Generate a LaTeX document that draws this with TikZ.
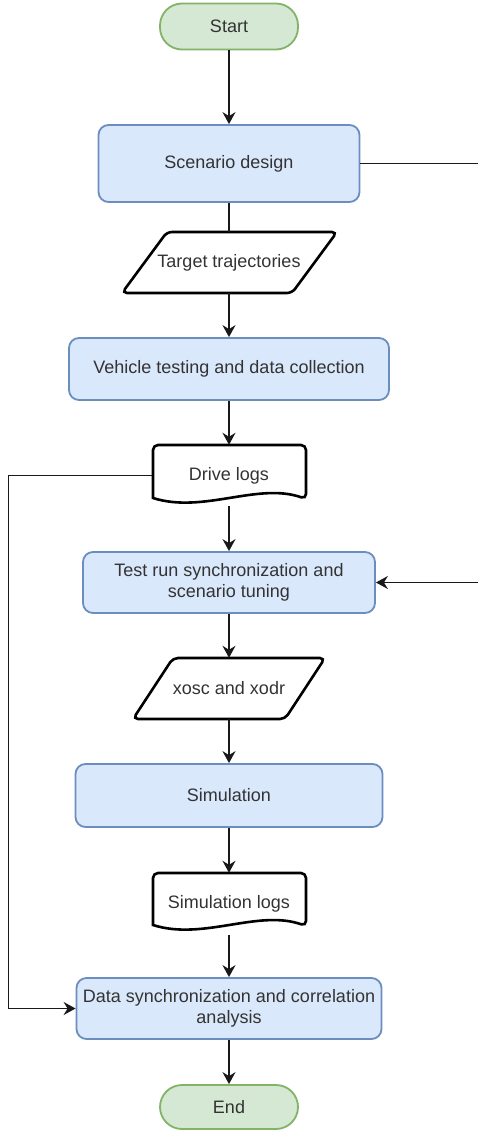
\documentclass[tikz,border=0pt]{standalone}
\usepackage{fontspec}
\setmainfont{Liberation Sans}
\usetikzlibrary{arrows.meta}
\definecolor{bluefill}{HTML}{DAE8FC}
\definecolor{bluedraw}{HTML}{6C8EBF}
\definecolor{greenfill}{HTML}{D5E8D4}
\definecolor{greendraw}{HTML}{82B366}
\definecolor{txt}{HTML}{333333}
\tikzset{
  lbl/.style={inner sep=0pt, text=txt, align=center,
    font=\fontsize{18}{21.5}\selectfont},
  procbox/.style={lbl, draw=bluedraw, fill=bluefill, line width=1.8pt, rounded corners=10pt},
  termbox/.style={lbl, draw=greendraw, fill=greenfill, line width=1.8pt},
  ghost/.style={lbl},
  outline/.style={draw=black, line width=2.6pt, rounded corners=5pt, fill=white},
  conn/.style={draw=black!90, line width=1.7pt},
  arr/.style={conn, -{Stealth[length=12pt,width=13pt,inset=4pt]}}
}
\begin{document}
\begin{tikzpicture}[x=1pt,y=-1pt]
\useasboundingbox (0,0) rectangle (477,1132);
\fill[white] (0,0) rectangle (477,1132);

% shapes drawn directly (parallelograms and documents)
\draw[outline] (167,232) -- (337,232) -- (292,293) -- (122,293) -- cycle;
\draw[outline] (173,658) -- (325,658) -- (285,719) -- (133,719) -- cycle;
\draw[outline] (153,498) -- (153,445) -- (306,445) -- (306,499)
  [sharp corners] .. controls (258,482) and (203,514) .. (153,498) -- cycle;
\draw[outline] (153,925) -- (153,873) -- (306,873) -- (306,926)
  [sharp corners] .. controls (258,909) and (203,941) .. (153,925) -- cycle;

% nodes
\node[termbox, rounded corners=22pt, minimum width=138pt, minimum height=46pt] (start) at (229,26.5) {\raisebox{-1pt}{Start}};
\node[procbox, minimum width=261pt, minimum height=77pt] (sd) at (229,163.5) {\raisebox{-1.5pt}{Scenario design}};
\node[ghost, minimum width=215pt, minimum height=61pt] (tt) at (229,262.5) {\raisebox{-1pt}{Target trajectories}};
\node[procbox, minimum width=320pt, minimum height=62pt] (vt) at (229,369) {\raisebox{-1.5pt}{Vehicle testing and data collection}};
\node[ghost, minimum width=153pt, minimum height=61pt] (dl) at (229,475.5) {\raisebox{-2pt}{Drive logs}};
\node[procbox, minimum width=292pt, minimum height=61pt] (tr) at (229,582.5) {Test run synchronization and\\scenario tuning};
\node[ghost, minimum width=192pt, minimum height=61pt] (xo) at (229,688.5) {\raisebox{-1pt}{xosc and xodr}};
\node[procbox, minimum width=307pt, minimum height=63pt] (sim) at (229,795.5) {\raisebox{-1pt}{Simulation}};
\node[ghost, minimum width=153pt, minimum height=62pt] (sl) at (229,904) {Simulation logs};
\node[procbox, minimum width=305pt, minimum height=61pt] (ds) at (229,1008.5) {Data synchronization and correlation\\analysis};
\node[termbox, rounded corners=22pt, minimum width=138pt, minimum height=44pt] (end) at (229,1107) {\raisebox{-1pt}{End}};

% connectors
\draw[arr] (start) -- (sd);
\draw[conn] (sd) -- (tt);
\draw[arr] (tt) -- (vt);
\draw[arr] (vt) -- (dl);
\draw[arr] (dl) -- (tr);
\draw[arr] (tr) -- (xo);
\draw[arr] (xo) -- (sim);
\draw[arr] (sim) -- (sl);
\draw[arr] (sl) -- (ds);
\draw[arr] (ds) -- (end);
\coordinate (rightrail) at (495,163.5);
\draw[arr] (sd.east) -- (rightrail) |- (tr.east);
\coordinate (leftrail) at (8.5,475.5);
\draw[arr] (dl.west) -- (leftrail) |- (ds.west);
\end{tikzpicture}
\end{document}
